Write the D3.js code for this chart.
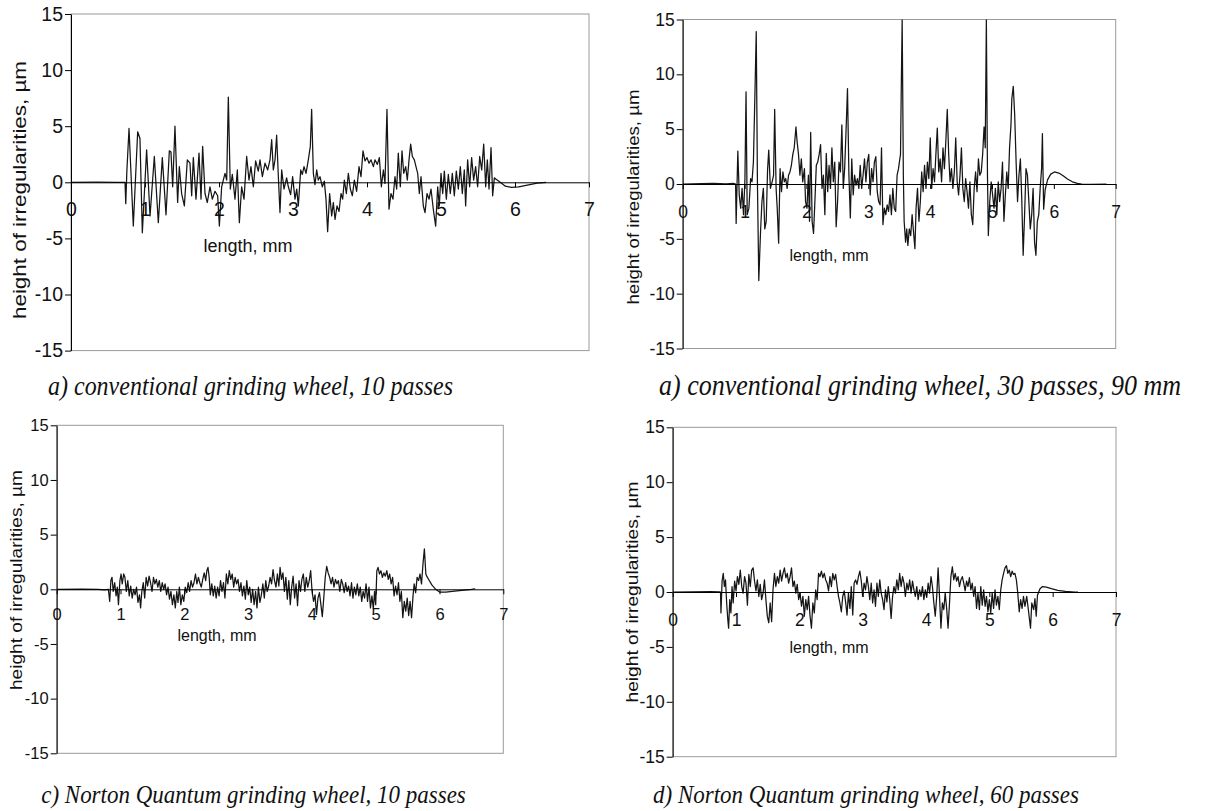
<!DOCTYPE html>
<html>
<head>
<meta charset="utf-8">
<script src="https://cdn.jsdelivr.net/npm/d3@7"></script>
<style>
  body { margin: 0; background: #fff; }
  svg { display: block; }
  .tick text { font-family: "Liberation Sans", Arial, sans-serif; fill: #111; }
</style>
</head>
<body>
<svg id="chart" width="1211" height="811"></svg>
<script>
// Surface profiles after grinding: length along the sample (mm) vs height of irregularities (µm)
const lengthTicks = [0, 1, 2, 3, 4, 5, 6, 7];
const heightTicks = [-15, -10, -5, 0, 5, 10, 15];
const lengthTitle = "length, mm";
const heightTitle = "height of irregularities, µm";
const captions = [
  "a) conventional grinding wheel, 10 passes",
  "a) conventional grinding wheel, 30 passes, 90 mm",
  "c) Norton Quantum grinding wheel, 10 passes",
  "d) Norton Quantum grinding wheel, 60 passes"
];

// [length mm, height µm]
const profileConv10 = [[0,0],[0.35,0.02],[0.6,0],[0.73,0],[0.74,-1.9],[0.755,1.0],[0.784,4.8],[0.842,-3.9],[0.901,4.5],[0.932,3.9],[0.964,-4.5],[1.022,2.9],[1.068,-3.0],[1.126,2.3],[1.18,-3.6],[1.234,2.2],[1.284,-2.9],[1.329,2.8],[1.351,2.7],[1.374,-0.4],[1.405,5.0],[1.441,-1.8],[1.464,1.4],[1.495,-1.0],[1.532,-2.1],[1.572,2.0],[1.608,1.7],[1.631,-1.2],[1.653,2.2],[1.689,-1.5],[1.73,2.6],[1.757,-1.5],[1.779,3.2],[1.811,-1.0],[1.842,-1.8],[1.878,-0.4],[1.91,-1.5],[1.946,-0.8],[1.982,-1.2],[2.005,-3.9],[2.036,-0.4],[2.081,0.8],[2.104,0.2],[2.126,7.6],[2.153,-0.6],[2.18,0.7],[2.216,-1.5],[2.248,1.1],[2.275,-3.6],[2.306,-0.4],[2.338,-1.5],[2.374,2.3],[2.405,0.2],[2.432,1.4],[2.464,-0.4],[2.495,1.9],[2.531,1.0],[2.554,2.0],[2.586,0.5],[2.622,1.7],[2.658,1.1],[2.689,2.0],[2.712,3.8],[2.734,1.1],[2.757,2.0],[2.779,4.2],[2.802,0.5],[2.824,-2.7],[2.847,1.1],[2.878,-0.6],[2.914,0.4],[2.937,-0.4],[2.968,-1.1],[2.995,0.5],[3.027,-1.5],[3.05,-0.6],[3.072,-2.1],[3.104,1.1],[3.126,0.7],[3.149,1.4],[3.176,0.8],[3.207,2.0],[3.234,3.2],[3.252,6.5],[3.275,0.8],[3.297,-0.2],[3.32,1.1],[3.342,0.2],[3.365,0.5],[3.396,-0.4],[3.423,0.1],[3.446,-1.5],[3.468,-4.4],[3.495,-1.0],[3.523,-3.0],[3.545,-1.8],[3.568,-3.3],[3.595,-2.1],[3.622,-2.6],[3.649,-1.0],[3.671,-1.5],[3.694,0.2],[3.721,-1.0],[3.748,0.8],[3.775,-0.6],[3.802,-1.2],[3.829,0.2],[3.86,-0.8],[3.892,1.4],[3.919,0.5],[3.946,2.8],[3.973,1.9],[4.0,2.2],[4.027,1.7],[4.054,2.0],[4.086,1.4],[4.108,2.0],[4.14,1.6],[4.167,2.2],[4.194,-0.4],[4.221,1.1],[4.243,-0.1],[4.27,6.5],[4.297,-2.4],[4.324,-1.0],[4.351,-1.5],[4.378,0.5],[4.401,-0.6],[4.423,2.6],[4.45,-0.4],[4.473,2.8],[4.496,0.8],[4.523,1.4],[4.545,0.2],[4.568,2.0],[4.59,3.4],[4.613,2.3],[4.64,2.0],[4.662,1.4],[4.685,0.8],[4.707,-1.0],[4.73,0.5],[4.761,-2.1],[4.784,-2.7],[4.811,-1.0],[4.838,-1.5],[4.865,-0.6],[4.896,-2.4],[4.928,-3.9],[4.955,-0.4],[4.977,-2.1],[5.0,0.8],[5.023,-1.0],[5.045,1.0],[5.072,-1.5],[5.099,0.7],[5.126,-1.0],[5.153,0.8],[5.18,-1.2],[5.207,1.0],[5.234,-0.6],[5.261,1.4],[5.288,-1.0],[5.315,1.1],[5.333,-2.1],[5.36,2.0],[5.387,-0.4],[5.414,2.2],[5.441,0.2],[5.468,1.4],[5.495,-0.4],[5.523,2.3],[5.55,1.1],[5.577,3.4],[5.604,-0.4],[5.626,2.0],[5.649,-0.6],[5.676,3.1],[5.698,-1.2],[5.721,0.4],[5.74,0.3],[5.8,0.0],[5.87,-0.35],[5.95,-0.45],[6.05,-0.4],[6.2,-0.2],[6.3,-0.08],[6.42,0]];

const profileConv30 = [[0,0],[0.3,0.03],[0.5,0.05],[0.7,0.02],[0.82,0.05],[0.855,0],[0.864,-3.6],[0.891,3.0],[0.914,-1.0],[0.937,-2.2],[0.96,-0.4],[0.983,-2.8],[1.006,0.4],[1.024,8.4],[1.043,-2.8],[1.07,-2.2],[1.098,0.5],[1.12,0.2],[1.143,2.0],[1.166,7.8],[1.189,13.9],[1.208,0.2],[1.23,-8.8],[1.258,-4.4],[1.281,-1.6],[1.304,-0.4],[1.327,-4.1],[1.35,-3.4],[1.372,1.3],[1.391,3.1],[1.418,-0.4],[1.446,0.2],[1.469,0.8],[1.487,6.8],[1.51,-0.4],[1.528,-2.2],[1.551,-5.4],[1.574,1.4],[1.597,-0.7],[1.62,1.1],[1.643,0.2],[1.666,0.5],[1.688,-0.4],[1.711,0.8],[1.734,1.1],[1.757,1.7],[1.78,2.7],[1.803,3.3],[1.831,5.2],[1.849,3.9],[1.872,2.7],[1.895,0.8],[1.918,2.3],[1.94,0.2],[1.968,1.4],[1.986,-1.6],[2.009,-2.2],[2.032,0.8],[2.05,-3.4],[2.069,4.7],[2.092,-3.4],[2.115,-4.5],[2.137,-1.6],[2.16,1.7],[2.183,2.0],[2.206,2.7],[2.229,3.6],[2.252,-0.4],[2.275,0.8],[2.298,-2.8],[2.321,2.8],[2.344,-0.7],[2.366,1.7],[2.389,-0.4],[2.412,3.3],[2.435,0.2],[2.458,2.0],[2.481,-3.9],[2.504,-1.6],[2.527,2.0],[2.55,1.1],[2.573,5.4],[2.596,-0.4],[2.618,1.4],[2.641,4.9],[2.664,8.7],[2.687,0.8],[2.71,-3.1],[2.733,2.3],[2.756,-1.0],[2.779,0.8],[2.802,-0.1],[2.825,0.5],[2.847,-0.4],[2.87,1.7],[2.893,-0.4],[2.916,0.8],[2.939,2.3],[2.962,0.2],[2.985,2.0],[3.008,2.7],[3.031,-1.0],[3.054,1.4],[3.077,0.2],[3.099,2.0],[3.122,2.5],[3.145,-0.7],[3.168,-1.6],[3.191,-1.9],[3.214,3.3],[3.237,-3.7],[3.26,-2.2],[3.283,-2.8],[3.306,-1.9],[3.328,-2.5],[3.351,-1.0],[3.374,-2.8],[3.397,-0.4],[3.42,-2.2],[3.443,-2.5],[3.466,0.8],[3.489,1.4],[3.503,2.0],[3.521,2.7],[3.535,9.4],[3.548,15],[3.567,0.8],[3.58,-3.4],[3.603,-5.3],[3.622,-4.1],[3.64,-5.6],[3.663,-4.1],[3.686,-4.7],[3.709,-2.8],[3.732,-4.4],[3.754,-5.9],[3.773,-2.2],[3.796,-0.4],[3.819,-3.4],[3.842,-1.6],[3.864,1.1],[3.887,-0.7],[3.91,1.7],[3.933,-0.4],[3.956,2.0],[3.979,0.5],[4.002,4.2],[4.025,-0.4],[4.048,1.4],[4.071,0.2],[4.093,2.7],[4.116,5.1],[4.139,1.1],[4.162,2.3],[4.185,0.2],[4.208,3.3],[4.231,1.4],[4.254,3.9],[4.277,6.8],[4.3,2.7],[4.322,0.2],[4.345,1.4],[4.368,-0.4],[4.391,1.1],[4.414,4.2],[4.437,0.2],[4.46,-1.0],[4.483,0.8],[4.506,3.3],[4.529,-0.4],[4.552,-1.6],[4.574,0.5],[4.597,-0.7],[4.62,-2.2],[4.643,0.2],[4.666,-2.8],[4.689,-3.7],[4.712,-0.4],[4.735,1.1],[4.758,-0.7],[4.781,2.3],[4.803,0.8],[4.826,1.1],[4.849,2.7],[4.872,5.2],[4.891,3.3],[4.909,15],[4.927,0.8],[4.941,-4.7],[4.964,-1.6],[4.987,0.2],[5.01,-1.0],[5.033,-2.2],[5.055,-0.4],[5.078,-2.8],[5.101,0.2],[5.124,-1.6],[5.147,-0.4],[5.17,2.0],[5.193,-3.4],[5.216,-1.0],[5.239,1.1],[5.262,-0.4],[5.284,3.3],[5.307,5.4],[5.321,7.8],[5.344,8.9],[5.367,6.3],[5.39,2.0],[5.413,-1.6],[5.436,0.8],[5.459,2.3],[5.481,-1.3],[5.504,-6.5],[5.527,-2.8],[5.55,1.4],[5.573,0.8],[5.596,-1.6],[5.619,-4.1],[5.642,-2.8],[5.665,-0.4],[5.688,-5.3],[5.71,-6.5],[5.733,-3.4],[5.756,-2.8],[5.779,-0.4],[5.802,1.4],[5.815,4.6],[5.835,-2.3],[5.86,-0.5],[5.9,0.4],[5.95,0.9],[6.01,1.1],[6.08,1.0],[6.15,0.75],[6.22,0.45],[6.3,0.2],[6.38,0.05],[6.45,0],[6.6,-0.03],[6.85,-0.02]];

const profileQuantum10 = [[0,0],[0.4,0.02],[0.65,0],[0.75,-0.05],[0.81,0],[0.831,-1.1],[0.849,0.8],[0.867,1.1],[0.886,-0.2],[0.909,0.6],[0.931,-0.6],[0.95,0.2],[0.968,-1.4],[0.991,0.8],[1.009,1.4],[1.027,0.5],[1.05,1.4],[1.069,1.1],[1.091,-0.2],[1.114,0.8],[1.137,-0.6],[1.16,0.3],[1.183,-0.8],[1.206,0],[1.229,-0.5],[1.251,0.2],[1.274,-1.2],[1.297,-0.5],[1.315,-1.7],[1.334,-0.2],[1.357,0.6],[1.379,-0.8],[1.402,1.1],[1.425,0.3],[1.448,1.2],[1.471,0.6],[1.494,-0.2],[1.517,1.1],[1.539,0.5],[1.562,0.9],[1.585,0.2],[1.608,0.8],[1.631,-0.2],[1.654,0.6],[1.677,0],[1.699,0.5],[1.722,-0.5],[1.745,0.2],[1.768,-0.9],[1.791,-0.2],[1.814,-1.4],[1.837,-0.5],[1.859,-1.7],[1.882,-0.2],[1.901,-1.2],[1.923,0.2],[1.946,-1.4],[1.969,-0.5],[1.992,-1.1],[2.015,0.2],[2.038,-0.3],[2.061,0.6],[2.083,-0.2],[2.106,0.8],[2.129,0.2],[2.152,0.6],[2.175,1.4],[2.198,0.5],[2.221,1.1],[2.243,0.6],[2.266,0.2],[2.289,0.9],[2.312,1.5],[2.335,0.8],[2.353,1.7],[2.371,2.0],[2.39,1.1],[2.408,-0.5],[2.431,0.5],[2.454,-0.6],[2.477,0.3],[2.499,-0.8],[2.522,0.2],[2.545,-0.6],[2.568,0.8],[2.591,-0.2],[2.614,0.6],[2.637,-0.8],[2.659,1.4],[2.682,0.5],[2.705,1.7],[2.728,0.9],[2.751,1.4],[2.774,0.2],[2.797,1.1],[2.819,0.5],[2.842,0.9],[2.865,-0.2],[2.888,0.6],[2.911,-0.6],[2.934,0.3],[2.957,-0.9],[2.979,0.8],[3.002,-0.5],[3.025,0.2],[3.048,-1.2],[3.071,0],[3.094,-1.4],[3.117,-0.2],[3.139,-1.7],[3.162,0.2],[3.185,-1.2],[3.208,-0.5],[3.231,0.5],[3.254,-0.8],[3.277,0.8],[3.299,-0.2],[3.322,0.3],[3.345,1.1],[3.368,0.5],[3.391,1.8],[3.414,0.8],[3.437,0.2],[3.459,1.4],[3.482,0.3],[3.501,2.0],[3.523,0.9],[3.546,1.5],[3.569,-0.2],[3.592,1.1],[3.615,-0.9],[3.638,0.8],[3.661,-1.4],[3.683,0.2],[3.706,1.2],[3.729,-0.8],[3.752,0.5],[3.775,-1.5],[3.798,0.8],[3.821,-0.2],[3.843,0.9],[3.866,1.4],[3.889,-0.2],[3.912,1.1],[3.935,0.2],[3.958,0.8],[3.981,1.7],[4.003,-0.2],[4.026,-1.1],[4.049,-0.5],[4.072,-2.3],[4.095,-0.8],[4.118,-0.3],[4.141,-1.4],[4.163,-2.5],[4.186,-0.8],[4.209,1.1],[4.232,2.1],[4.255,1.5],[4.278,1.1],[4.301,0.5],[4.323,1.1],[4.346,0.2],[4.369,0.9],[4.392,0.5],[4.415,0.8],[4.438,-0.2],[4.461,0.9],[4.483,0.5],[4.506,-0.3],[4.529,0.6],[4.552,-0.2],[4.575,0.3],[4.598,-0.6],[4.621,0.6],[4.643,-0.8],[4.666,0.2],[4.689,-0.5],[4.712,0.5],[4.735,-0.6],[4.758,0.2],[4.781,-1.1],[4.803,-0.2],[4.826,-0.8],[4.849,0.5],[4.872,-1.1],[4.895,0.2],[4.918,-1.7],[4.941,-0.6],[4.963,-1.8],[4.982,-0.2],[5.0,-1.4],[5.018,1.7],[5.037,2.0],[5.059,1.4],[5.082,1.7],[5.105,1.1],[5.128,1.5],[5.151,1.2],[5.174,1.7],[5.197,0.9],[5.219,1.4],[5.242,0.5],[5.265,1.1],[5.288,-0.6],[5.311,0.3],[5.334,-0.5],[5.357,0.6],[5.379,-1.1],[5.402,-0.2],[5.425,-2.6],[5.448,-1.1],[5.471,-2.0],[5.494,-0.8],[5.517,-2.4],[5.539,-1.1],[5.562,-2.6],[5.585,-0.6],[5.603,0.5],[5.626,-0.3],[5.649,1.1],[5.672,0.8],[5.695,1.4],[5.718,0.5],[5.741,2.3],[5.763,3.7],[5.786,1.4],[5.8,1.2],[5.83,0.9],[5.88,0.4],[5.94,0.0],[6.0,-0.25],[6.1,-0.25],[6.2,-0.2],[6.35,-0.1],[6.5,0.0],[6.56,0.05]];

const profileQuantum60 = [[0,0],[0.3,0.02],[0.6,0.03],[0.74,0.02],[0.755,0],[0.762,-1.9],[0.78,1.0],[0.798,1.7],[0.816,0.5],[0.834,1.1],[0.852,-1.0],[0.87,-2.5],[0.883,-3.3],[0.901,-0.7],[0.919,-1.9],[0.937,0.5],[0.955,-1.0],[0.978,1.0],[1.0,0.1],[1.022,1.4],[1.045,0.7],[1.067,2.0],[1.09,0.5],[1.112,-0.1],[1.135,1.4],[1.157,0.8],[1.18,-1.2],[1.202,1.6],[1.225,0.5],[1.247,2.0],[1.27,2.2],[1.292,1.0],[1.315,0.1],[1.337,1.1],[1.36,-0.4],[1.382,0.7],[1.404,-0.7],[1.427,-0.1],[1.449,1.1],[1.472,-0.7],[1.494,-2.2],[1.517,-2.8],[1.539,-1.0],[1.562,-2.7],[1.584,0.2],[1.607,1.7],[1.629,0.5],[1.652,1.4],[1.674,0.8],[1.697,2.0],[1.719,1.0],[1.742,1.7],[1.764,2.2],[1.787,1.3],[1.809,1.7],[1.831,0.8],[1.854,1.4],[1.876,2.2],[1.899,0.5],[1.921,1.0],[1.944,-0.1],[1.966,0.7],[1.989,-0.7],[2.011,-0.1],[2.034,-1.3],[2.056,-0.4],[2.079,-2.2],[2.101,-0.7],[2.124,-1.6],[2.146,-0.4],[2.169,-2.2],[2.191,-3.3],[2.213,-1.0],[2.236,-1.9],[2.258,0.2],[2.281,-0.7],[2.303,1.7],[2.326,1.4],[2.348,1.9],[2.371,1.3],[2.393,1.7],[2.416,1.1],[2.438,0.8],[2.461,0.1],[2.483,1.4],[2.506,0.5],[2.528,1.7],[2.551,1.1],[2.573,1.6],[2.596,0.5],[2.618,-0.4],[2.64,-1.0],[2.663,-1.8],[2.685,-0.4],[2.708,0.1],[2.73,-0.9],[2.753,-2.1],[2.775,-0.1],[2.798,-1.5],[2.82,0.5],[2.843,-2.1],[2.865,0.8],[2.888,1.1],[2.91,0.7],[2.933,1.4],[2.955,1.9],[2.978,1.0],[3.0,-0.4],[3.022,0.8],[3.045,0.2],[3.067,1.4],[3.09,0.5],[3.112,-0.7],[3.135,0.8],[3.157,-1.0],[3.18,0.2],[3.202,-1.3],[3.225,0.8],[3.247,-0.4],[3.27,1.1],[3.292,-0.1],[3.315,-0.7],[3.337,-1.6],[3.36,0.2],[3.382,-0.9],[3.404,0.5],[3.427,-0.7],[3.449,-2.4],[3.472,-0.4],[3.494,0.5],[3.517,-0.1],[3.539,1.1],[3.562,0.2],[3.584,1.7],[3.607,0.5],[3.629,1.4],[3.652,0.8],[3.674,-0.4],[3.697,0.8],[3.719,0.2],[3.742,1.1],[3.764,-0.1],[3.787,1.0],[3.809,0.2],[3.831,-0.4],[3.854,0.5],[3.876,-0.7],[3.899,0.2],[3.921,-0.4],[3.944,0.5],[3.966,-0.7],[3.989,0.2],[4.011,-0.5],[4.034,0.8],[4.056,-0.1],[4.079,1.4],[4.101,0.5],[4.124,-1.0],[4.146,-2.2],[4.169,-0.4],[4.191,2.2],[4.213,-0.4],[4.236,-3.3],[4.258,-1.0],[4.281,-1.6],[4.303,-0.1],[4.326,-1.5],[4.348,-3.3],[4.371,-1.0],[4.393,1.4],[4.416,2.3],[4.438,1.1],[4.461,1.7],[4.483,1.0],[4.506,1.4],[4.528,0.5],[4.551,1.1],[4.573,1.4],[4.596,0.8],[4.618,0.1],[4.64,1.0],[4.663,0.5],[4.685,1.3],[4.708,0.2],[4.73,0.8],[4.753,-0.4],[4.775,0.5],[4.798,-1.5],[4.82,-0.1],[4.843,-1.6],[4.865,0.5],[4.888,-1.2],[4.91,0.2],[4.933,-1.3],[4.955,-0.4],[4.978,-1.8],[5.0,-0.7],[5.022,-1.9],[5.045,-0.1],[5.067,-1.5],[5.09,0.2],[5.112,-1.2],[5.135,-0.4],[5.157,-1.6],[5.18,0.2],[5.202,1.1],[5.225,1.7],[5.247,2.2],[5.27,2.4],[5.292,1.7],[5.315,2.0],[5.337,1.4],[5.36,1.9],[5.382,1.6],[5.404,1.7],[5.427,1.1],[5.449,-0.1],[5.472,-1.8],[5.494,-0.7],[5.517,-1.5],[5.539,-0.4],[5.562,-1.3],[5.59,-0.4],[5.62,-1.8],[5.65,-3.3],[5.67,-1.0],[5.7,-1.6],[5.72,-0.6],[5.74,-2.2],[5.76,-0.3],[5.8,0.3],[5.84,0.5],[5.9,0.45],[5.98,0.3],[6.08,0.15],[6.2,0.05],[6.35,0],[6.4,-0.02]];

// Panel layout on the page (pixels); labelDrop = distance from the zero line to the tick-label centre
const panels = [
  { data: profileConv10, caption: captions[0], left: 71, right: 589, top: 14, bottom: 350.6, tickFont: 19.5, titleFont: 18,
    labelDrop: 27, xTitle: [248, 246], yTitle: [19, 190, 258], cap: [48, 395, 24, "start"] },
  { data: profileConv30, caption: captions[1], left: 682.7, right: 1115.7, top: 19.5, bottom: 348.5, tickFont: 17.5, titleFont: 16,
    labelDrop: 28, xTitle: [829, 255], yTitle: [633, 197, 215], cap: [920, 395, 26, "middle"] },
  { data: profileQuantum10, caption: captions[2], left: 56.7, right: 503.3, top: 425.3, bottom: 753.3, tickFont: 16.5, titleFont: 16,
    labelDrop: 24.5, xTitle: [217, 635], yTitle: [16, 580, 220], cap: [253.5, 803, 23, "middle"] },
  { data: profileQuantum60, caption: captions[3], left: 672.7, right: 1116, top: 427.3, bottom: 756.7, tickFont: 17.5, titleFont: 16,
    labelDrop: 28, xTitle: [829, 647], yTitle: [632, 592, 221], cap: [866, 803, 23, "middle"] }
];

const svg = d3.select("#chart");
const sans = '"Liberation Sans", Arial, sans-serif';
const serif = '"Liberation Serif", "Times New Roman", serif';

panels.forEach((p, i) => {
  const x = d3.scaleLinear().domain([0, 7]).range([p.left, p.right]);
  const y = d3.scaleLinear().domain([-15, 15]).range([p.bottom, p.top]);
  const g = svg.append("g");

  // frame around the plotting area
  g.append("rect")
    .attr("x", p.left).attr("y", p.top)
    .attr("width", p.right - p.left).attr("height", p.bottom - p.top)
    .attr("fill", "none").attr("stroke", "#9a9a9a").attr("stroke-width", 1);

  // clip for the profile
  const clipId = "clip" + i;
  svg.append("clipPath").attr("id", clipId)
    .append("rect").attr("x", p.left).attr("y", p.top)
    .attr("width", p.right - p.left).attr("height", p.bottom - p.top);

  // profile line
  const line = d3.line().x(d => x(d[0])).y(d => y(d[1]));
  g.append("path")
    .datum(p.data)
    .attr("clip-path", `url(#${clipId})`)
    .attr("fill", "none")
    .attr("stroke", "#151515")
    .attr("stroke-width", 1.25)
    .attr("stroke-linejoin", "round")
    .attr("d", line);

  // x axis running along zero height
  const labelGap = p.labelDrop + 0.36 * p.tickFont - 5 - 0.71 * p.tickFont;
  const xAxis = d3.axisBottom(x).tickValues(lengthTicks).tickFormat(d3.format("d"))
    .tickSize(5).tickSizeOuter(0).tickPadding(labelGap);
  const gx = g.append("g").attr("transform", `translate(0,${y(0)})`).call(xAxis);
  gx.selectAll("text").style("font-size", p.tickFont + "px");
  gx.select(".domain").attr("stroke", "#000");
  gx.selectAll(".tick line").attr("stroke", "#000");

  // y axis
  const yAxis = d3.axisLeft(y).tickValues(heightTicks).tickFormat(d3.format("d"))
    .tickSize(6).tickSizeOuter(0).tickPadding(2);
  const gy = g.append("g").attr("transform", `translate(${p.left},0)`).call(yAxis);
  gy.selectAll("text").style("font-size", p.tickFont + "px").text(d => d < 0 ? "-" + Math.abs(d) : d);
  gy.select(".domain").attr("stroke", "#000");
  gy.selectAll(".tick line").attr("stroke", "#000");

  // axis titles
  g.append("text")
    .attr("x", p.xTitle[0]).attr("y", p.xTitle[1])
    .attr("text-anchor", "middle").attr("dominant-baseline", "central")
    .style("font-family", sans).style("font-size", p.titleFont + "px").style("fill", "#111")
    .text(lengthTitle);

  g.append("text")
    .attr("transform", `translate(${p.yTitle[0]},${p.yTitle[1]}) rotate(-90)`)
    .attr("text-anchor", "middle").attr("dominant-baseline", "central")
    .attr("textLength", p.yTitle[2]).attr("lengthAdjust", "spacingAndGlyphs")
    .style("font-family", sans).style("font-size", (p.titleFont + 1) + "px").style("fill", "#111")
    .text(heightTitle);

  // caption below the panel
  g.append("text")
    .attr("transform", `translate(${p.cap[0]},${p.cap[1]}) scale(1,1.12)`)
    .attr("text-anchor", p.cap[3])
    .style("font-family", serif).style("font-style", "italic")
    .style("font-size", p.cap[2] + "px").style("fill", "#111")
    .text(p.caption);
});
</script>
</body>
</html>
